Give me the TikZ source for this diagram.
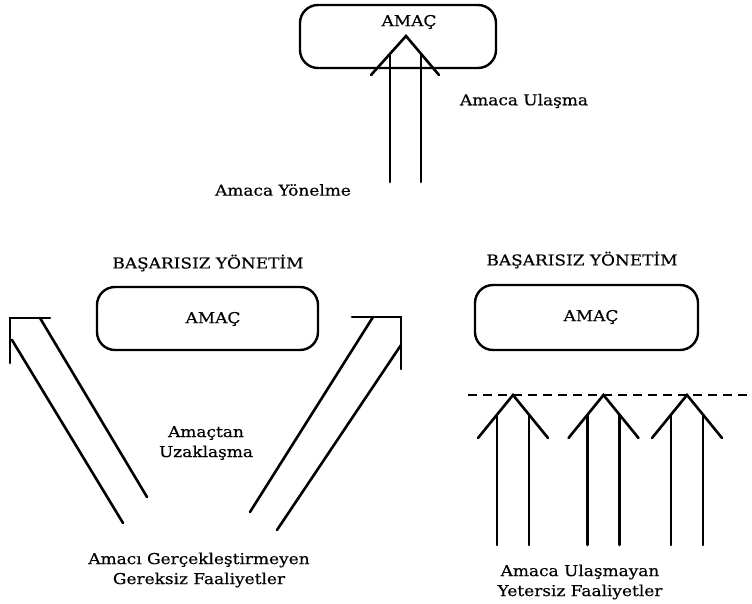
\documentclass[tikz,border=0pt]{standalone}
\usepackage{fontspec}
\setmainfont[FakeStretch=1.13,FakeBold=0.4]{DejaVu Serif}
\begin{document}
\begin{tikzpicture}[x=1pt,y=-1pt,
  line width=2.6pt, line cap=round,
  goalbox/.style={draw, line width=2.4pt, rounded corners=18pt, inner sep=0pt},
  lbl/.style={font=\fontsize{15}{20}\selectfont, inner sep=0pt, align=center},
  guide/.style={draw, line width=2.4pt, dash pattern=on 9pt off 6pt, line cap=butt}]
\useasboundingbox (0,0) rectangle (752,604);

% ---------- top: successful ----------
\node[goalbox, minimum width=196pt, minimum height=63pt] (topbox) at (398,36.5) {};
\node[lbl] (toplbl) at (409,22) {AMAÇ};
\coordinate (tA) at (406,36);
\coordinate (tL) at (371,75);
\coordinate (tR) at (439,75);
\draw[line join=miter] (tL) -- (tA) -- (tR);
\draw (390,55) coordinate (ts1) -- (390,182) coordinate (tb1);
\draw (421,54) coordinate (ts2) -- (421,182) coordinate (tb2);
\node[lbl] (ulasma) at (524,101) {Amaca Ulaşma};
\node[lbl] (yonelme) at (283,190) {Amaca Yönelme};

% ---------- left: failing management ----------
\node[lbl] (ltitle) at (208,263) {BAŞARISIZ YÖNETİM};
\node[goalbox, minimum width=221pt, minimum height=63pt] (lbox) at (207.5,318.5) {};
\node[lbl] (llbl) at (213,319) {AMAÇ};
% left-going arrow
\coordinate (la) at (10,318);
\coordinate (lah) at (50,318);
\coordinate (lav) at (10,363);
\draw[line join=miter] (lah) -- (la) -- (lav);
\coordinate (li1) at (40,318);
\coordinate (li2) at (147,497);
\coordinate (lo1) at (12,340);
\coordinate (lo2) at (123,523);
\draw (li1) -- (li2);
\draw (lo1) -- (lo2);
% right-going arrow
\coordinate (ra) at (401,317);
\coordinate (rah) at (352,317);
\coordinate (rav) at (401,369);
\draw[line join=miter] (rah) -- (ra) -- (rav);
\coordinate (ri1) at (373,317);
\coordinate (ri2) at (250,512);
\coordinate (ro1) at (401,345);
\coordinate (ro2) at (277,530);
\draw (ri1) -- (ri2);
\draw (ro1) -- (ro2);
\node[lbl] (uzak) at (206,443) {Amaçtan\\Uzaklaşma};
\node[lbl] (gereksiz) at (199,570) {Amacı Gerçekleştirmeyen\\Gereksiz Faaliyetler};

% ---------- right: failing management ----------
\node[lbl] (rtitle) at (582,260) {BAŞARISIZ YÖNETİM};
\node[goalbox, minimum width=223pt, minimum height=65pt] (rbox) at (586.5,317.5) {};
\node[lbl] (rlbl) at (591,317) {AMAÇ};
\coordinate (dl) at (468,395);
\coordinate (dr) at (752,395);
\draw[guide] (dl) -- (dr);
\foreach \c [count=\i] in {513,603.5,687} {
  \coordinate (p\i) at (\c,395);
  \coordinate (pl\i) at (\c-35,438);
  \coordinate (pr\i) at (\c+35,438);
  \draw[line join=miter] (pl\i) -- (p\i) -- (pr\i);
  \draw (\c-16,415) coordinate (s\i a) -- (\c-16,545) coordinate (b\i a);
  \draw (\c+16,415) coordinate (s\i b) -- (\c+16,545) coordinate (b\i b);
}
\node[lbl] (yetersiz) at (580,582) {Amaca Ulaşmayan\\Yetersiz Faaliyetler};
\end{tikzpicture}
\end{document}
